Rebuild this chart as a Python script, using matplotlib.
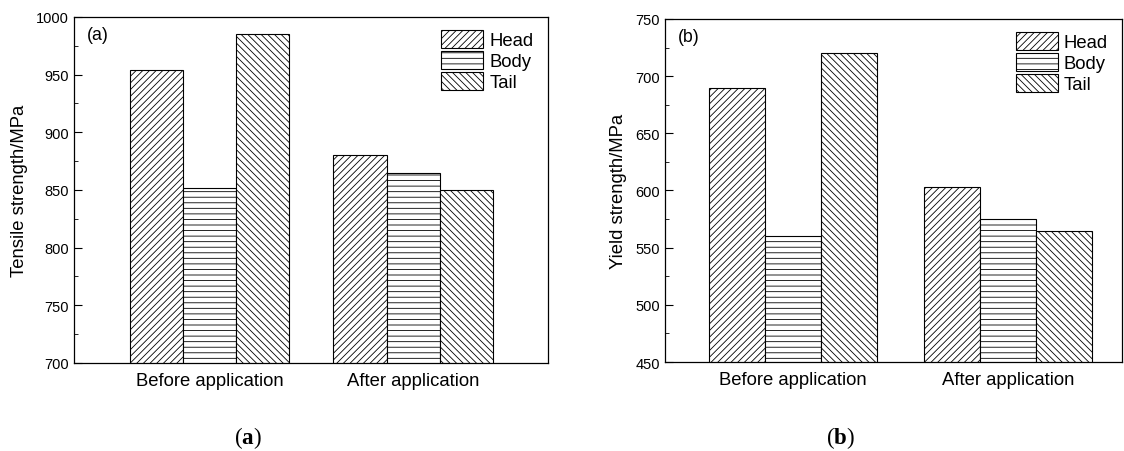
import matplotlib.pyplot as plt
from matplotlib.ticker import MultipleLocator

plt.rcParams['font.family'] = ['Liberation Sans', 'DejaVu Sans']
plt.rcParams['hatch.linewidth'] = 0.6
plt.rcParams['mathtext.fontset'] = 'custom'
plt.rcParams['mathtext.rm'] = 'Liberation Serif'
plt.rcParams['mathtext.bf'] = 'Liberation Serif:bold'

groups = ['Before application', 'After application']
series = ['Head', 'Body', 'Tail']
hatches = ['/////', '---', '\\\\\\\\\\']

tensile = {'Head': [954, 880], 'Body': [852, 865], 'Tail': [985, 850]}
yield_s = {'Head': [690, 603], 'Body': [560, 575], 'Tail': [720, 565]}

fig = plt.figure(figsize=(11.24, 4.52), dpi=100)
ax1 = fig.add_axes([0.0658, 0.1947, 0.4217, 0.7655])
ax2 = fig.add_axes([0.5916, 0.1969, 0.4066, 0.7589])


def draw(ax, data, ylabel, ylim, xlim, width, tag, caption, cap_x):
    x = list(range(len(groups)))
    for i, s in enumerate(series):
        pos = [p + (i - 1) * width for p in x]
        ax.bar(pos, data[s], width, bottom=0, color='white', edgecolor='black',
               hatch=hatches[i], linewidth=0.8, label=s, zorder=2)
    ax.set_ylim(*ylim)
    ax.set_xlim(*xlim)
    ax.set_xticks(x)
    ax.set_xticklabels(groups, fontsize=13.3)
    ax.tick_params(axis='x', length=0, pad=6.5)
    ax.yaxis.set_major_locator(MultipleLocator(50))
    ax.yaxis.set_minor_locator(MultipleLocator(25))
    ax.tick_params(axis='y', which='major', direction='in', length=6, labelsize=10.5)
    ax.tick_params(axis='y', which='minor', direction='in', length=3)
    ax.set_ylabel(ylabel, fontsize=13.3, labelpad=6)
    for sp in ax.spines.values():
        sp.set_linewidth(0.9)
    ax.text(0.028, 0.975, tag, transform=ax.transAxes, fontsize=12.7, va='top', ha='left')
    ax.legend(loc='upper right', bbox_to_anchor=(0.985, 0.985), frameon=False,
              fontsize=13.3, handlelength=2.27, handleheight=1.13,
              labelspacing=0.1, handletextpad=0.33, borderaxespad=0.2,
              borderpad=0.2)
    fig.text(cap_x, 1 - 438 / 452, caption, ha='center', va='center', fontsize=16.5)


draw(ax1, tensile, 'Tensile strength/MPa', (700, 1000), (-0.667, 1.663), 0.261,
     '(a)', r'$\mathrm{(}\mathbf{a}\mathrm{)}$', 248 / 1124)
draw(ax2, yield_s, 'Yield strength/MPa', (450, 750), (-0.595, 1.53), 0.26,
     '(b)', r'$\mathrm{(}\mathbf{b}\mathrm{)}$', 840 / 1124)

fig.savefig('out.png', dpi=100)
